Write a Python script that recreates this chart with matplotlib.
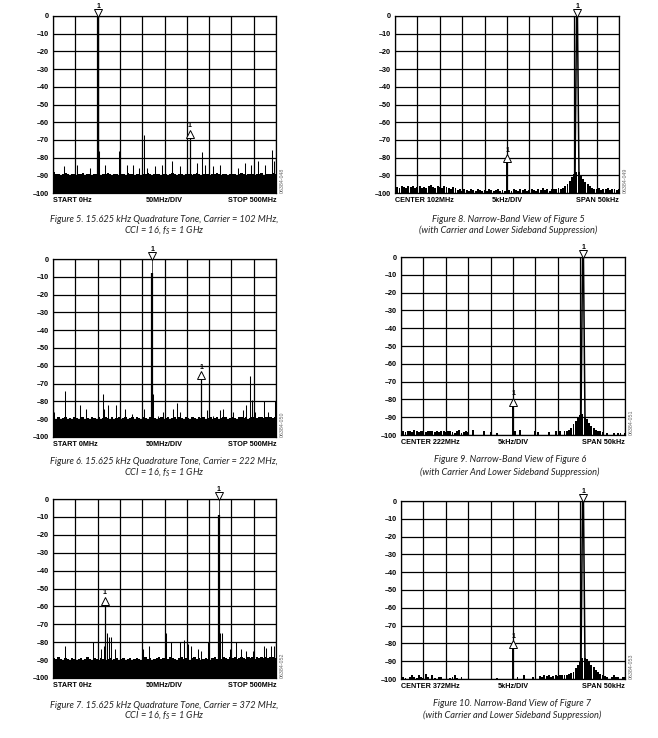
import matplotlib
matplotlib.use('Agg')
import matplotlib.pyplot as plt
from matplotlib import font_manager
from matplotlib.transforms import offset_copy

W, H = 658, 738

# ---------------- wide band views, 0 - 500 MHz ----------------
wide_freq = list(range(0, 500, 5))   # noise floor bins, MHz

fig5_floor = [-88, -89, -89.5, -90, -89, -88.5, -89.5, -90, -89, -89.5,
              -90, -89, -89.5, -88.5, -90, -89.5, -89, -90, -89.5, -89,
              -89.5, -90, -89, -89.5, -88.5, -89.5, -90, -89, -89.5, -90,
              -89, -89.5, -90, -88.5, -89.5, -89, -90, -89.5, -89, -90,
              -89.5, -89, -88.5, -89.5, -90, -89, -89.5, -89, -90, -89.5,
              -89, -90, -89.5, -88.5, -89, -90, -89.5, -89, -90, -89.5,
              -89, -89.5, -90, -89, -88.5, -89.5, -90, -89, -89.5, -89,
              -90, -89.5, -89, -88.5, -89.5, -90, -89, -89.5, -90, -89,
              -89.5, -89, -90, -89.5, -88.5, -89, -90, -89.5, -89, -89.5,
              -90, -89, -89.5, -88.5, -90, -89.5, -89, -89.5, -88.5, -89]
fig5_spur_mhz = [0, 24, 54, 82, 104, 117, 148, 165, 180, 192, 203, 210, 229,
                 244, 266, 285, 322, 333, 341, 359, 374, 398, 415, 430, 443,
                 460, 475, 490, 495]
fig5_spur_db = [-23, -85, -84, -86, -76, -84, -76, -84, -84, -86, -67, -86,
                -85, -84, -82, -85, -83, -77, -84, -85, -84, -78, -86, -83,
                -84, -82, -84, -75.5, -82]
fig5_carrier = (102, 0, 0)        # MHz, thick top, marker level
fig5_marker = (307, -68)

fig6_floor = [-89.5, -90, -89, -90, -89.5, -88.5, -90, -89.5, -90, -89,
              -89.5, -90, -89, -88.5, -90, -89.5, -90, -89, -89.5, -90,
              -89, -90, -89.5, -88.5, -89.5, -90, -89, -90, -89.5, -89,
              -90, -89.5, -89, -90, -89.5, -88.5, -90, -89, -89.5, -90,
              -89, -89.5, -90, -89, -88.5, -89.5, -90, -89.5, -89, -90,
              -89.5, -89, -90, -89.5, -89, -90, -88.5, -89.5, -90, -89,
              -89.5, -90, -89, -89.5, -90, -88.5, -89.5, -89, -90, -89.5,
              -89, -90, -89.5, -89, -90, -89.5, -88.5, -89, -90, -89.5,
              -89, -89.5, -90, -89, -88.5, -89.5, -89, -90, -89.5, -89,
              -88.5, -89.5, -89, -88.5, -89.5, -89, -88.5, -89, -89.5, -88.5]
fig6_spur_mhz = [0, 2, 28, 60, 73, 111, 114, 123, 142, 161, 178, 203, 224,
                 235, 247, 269, 277, 284, 345, 359, 374, 381, 404, 425, 433,
                 442, 446, 452, 473, 482, 497]
fig6_spur_db = [-23, -86, -74, -82, -84, -76, -84, -82, -82, -84, -87, -84,
                -76, -88, -86, -84, -81, -86, -85, -88, -85, -84, -86, -85,
                -82, -66, -79, -86, -80, -86, -80]
fig6_carrier = (222, -8, 0)
fig6_marker = (332, -67)

fig7_floor = [-89, -89.5, -88.5, -89.5, -90, -89, -89.5, -90, -89, -89.5,
              -90, -89.5, -89, -90, -89.5, -88.5, -89.5, -90, -89, -89.5,
              -90, -89, -89.5, -90, -89.5, -89, -90, -89.5, -89, -90,
              -89.5, -89, -90, -89.5, -89, -90, -89.5, -89, -89.5, -90,
              -89, -88.5, -89.5, -89, -90, -89.5, -89, -88.5, -89.5, -89,
              -90, -89.5, -88.5, -89, -89.5, -90, -89, -88.5, -89.5, -89,
              -89.5, -90, -89, -88.5, -89.5, -89, -90, -89.5, -89, -89.5,
              -90, -89, -88.5, -89.5, -89, -89.5, -88.5, -89, -89.5, -88.5,
              -89, -88.5, -89.5, -89, -88.5, -89, -89.5, -88.5, -89, -88.5,
              -89.5, -88.5, -89, -88, -89, -88.5, -89, -88, -88.5, -89]
fig7_spur_mhz = [0, 28, 90, 107, 115, 121, 125, 129, 140, 201, 215, 254,
                 265, 284, 293, 302, 310, 325, 332, 347, 375, 379, 396, 410,
                 422, 433, 448, 472, 478, 489, 496]
fig7_spur_db = [-23, -82, -80, -84, -82, -75, -77, -77, -84, -84, -82, -75,
                -80, -80, -79, -81, -82, -84, -85, -80, -75, -75, -84, -80,
                -84, -85, -85, -82, -83, -82, -82]
fig7_carrier = (372, -9, 0)
fig7_marker = (116, -58.5)

# ---------------- narrow band views, 50 kHz span ----------------
nb_khz = [-25 + 0.5 * i for i in range(101)]   # trace bins, kHz from center

fig8_trace = [-97, -96.5, -97, -96, -96.5, -97, -96, -96.5, -96, -97,
              -96.5, -96, -97, -96.5, -97, -96, -95.5, -96.5, -97, -96,
              -96.5, -97, -96, -96.5, -97, -97.5, -96.5, -97,
              -98.5, -98, -99, -97.5, -98.5, -99, -98, -98.5, -99, -98,
              -98.5, -99, -98.5, -99, -98, -98.5, -99, -98.5, -98, -99,
              -98.5, -99,
              -98.5,
              -98.5, -99, -98, -98.5, -99, -97.5, -98.5, -98, -99, -98.5,
              -97.5, -98.5, -99, -98, -98.5, -97, -98.5, -98, -99, -98,
              -97.5, -98, -97, -97.5,
              -97, -96, -95, -93, -91, -89,
              -88,
              -88, -90, -92, -94, -95, -96, -97,
              -97.5, -98, -97, -98.5, -97.5, -98, -97, -98.5, -98, -97.5,
              -98.5, -98]
fig9_trace = [-98.5, -98, -98.5, -97.5, -98, -98.5, -97, -98, -98.5, -98,
              -97.5, -98.5, -98, -97.5, -98, -98.5, -98, -98.5, -97.5, -98,
              -98.5, -98, -97.5, -98.5, -99, -98, -97, -99, -98.5, -98,
              -98.5,
              -100, -97, -100, -100, -100, -100, -98, -100, -100, -98.5,
              -100, -100, -99, -100, -100, -100, -100, -100, -100,
              -100,
              -98, -100, -97, -100, -100, -100, -100, -100, -100, -98,
              -98.5, -100, -100, -100, -100, -98.3, -100, -100, -98, -100,
              -97.5, -100, -97.5, -98,
              -97, -96, -94, -92, -90, -89,
              -88,
              -90, -91, -93, -95, -96, -97, -97.5,
              -98, -98.5, -100, -99, -100, -100, -99, -100, -99, -99,
              -100, -99]
fig10_trace = [-100, -99, -99.5, -100, -99, -97.5, -99, -99.5, -98, -99,
               -99.5, -97, -99, -100, -98, -99.5, -100, -99, -99, -100,
               -100, -100, -99.5, -99, -98, -99.5, -100, -99, -100,
               -100, -100, -100, -100, -100, -100, -100, -100, -100, -100,
               -100, -100, -100, -100, -99.5, -100, -100, -100, -100, -100,
               -100,
               -100,
               -100, -99, -100, -100, -98, -100, -100, -100, -99, -100,
               -100, -98.5, -99, -98, -98.5, -98, -99, -98.5, -98, -98.5,
               -98, -97.5, -98, -97.5,
               -97, -96.5, -96, -94, -92, -90,
               -88,
               -88, -89, -90, -92, -93.5, -95, -96,
               -97, -98, -98.5, -99, -100, -99, -98, -99, -99, -100,
               -99, -99]

sideband_khz = 15.625
residual_khz = 0.0
fig8_residual_db = -82
fig9_residual_db = -83
fig10_residual_db = -82
# upper sideband trace shape around the tone (kHz offset, dB)
peak_dx = [-0.45, -0.1, 0.1, 0.45]
peak_db = [-92, 0, 0, -92]

wide_labels = [('START 0Hz', '50MHz/DIV', 'STOP 500MHz'),
               ('START 0MHz', '50MHz/DIV', 'STOP 500MHz'),
               ('START 0Hz', '50MHz/DIV', 'STOP 500MHz')]
narrow_labels = [('CENTER 102MHz', '5kHz/DIV', 'SPAN 50kHz'),
                 ('CENTER 222MHz', '5kHz/DIV', 'SPAN 50kHz'),
                 ('CENTER 372MHz', '5kHz/DIV', 'SPAN 50kHz')]
codes = ['06384-048', '06384-049', '06384-050', '06384-051',
         '06384-052', '06384-053']
captions = [
    ('Figure 5. 15.625 kHz Quadrature Tone, Carrier = 102 MHz,',
     'CCI = 16, $f_S$ = 1 GHz'),
    ('Figure 8. Narrow-Band View of Figure 5',
     '(with Carrier and Lower Sideband Suppression)'),
    ('Figure 6. 15.625 kHz Quadrature Tone, Carrier = 222 MHz,',
     'CCI = 16, $f_S$ = 1 GHz'),
    ('Figure 9. Narrow-Band View of Figure 6',
     '(with Carrier And Lower Sideband Suppression)'),
    ('Figure 7. 15.625 kHz Quadrature Tone, Carrier = 372 MHz,',
     'CCI = 16, $f_S$ = 1 GHz'),
    ('Figure 10. Narrow-Band View of Figure 7',
     '(with Carrier and Lower Sideband Suppression)'),
]

names = set(f.name for f in font_manager.fontManager.ttflist)
cap_font = 'Liberation Sans Narrow' if 'Liberation Sans Narrow' in names else 'Lato'
lab_font = 'Liberation Sans'

plt.rcParams['font.family'] = lab_font
plt.rcParams['mathtext.fontset'] = 'custom'
plt.rcParams['mathtext.it'] = cap_font + ':italic'
plt.rcParams['mathtext.rm'] = cap_font + ':italic'

fig = plt.figure(figsize=(W / 100, H / 100), dpi=100)


def box(l, t, r, b):
    return [l / W, 1 - b / H, (r - l) / W, (b - t) / H]


def frame(ax, xmin, xmax, step, labels, code):
    ax.set_xlim(xmin, xmax)
    ax.set_ylim(-100, 0)
    ax.set_xticks([xmin + step * i for i in range(11)])
    ax.set_yticks(range(-100, 1, 10))
    ax.set_xticklabels([])
    ax.set_yticklabels(['0' if v == 0 else '\u2013%d' % -v for v in range(-100, 1, 10)],
                       fontweight='bold')
    ax.tick_params(length=0, pad=3, labelsize=5.2)
    ax.grid(True, color='black', lw=0.9, zorder=0)
    ax.set_axisbelow(True)
    for s in ax.spines.values():
        s.set_linewidth(0.9)
    ax.text(0, -0.04, labels[0], transform=ax.transAxes, ha='left', va='center',
            fontsize=5.2, fontweight='bold')
    ax.text(0.5, -0.04, labels[1], transform=ax.transAxes, ha='center', va='center',
            fontsize=5.2, fontweight='bold')
    ax.text(1, -0.04, labels[2], transform=ax.transAxes, ha='right', va='center',
            fontsize=5.2, fontweight='bold')
    ax.text(1.015, 0.0, code, transform=ax.transAxes, rotation=90, ha='left',
            va='bottom', fontsize=3.8, color='#666666')


def marker(ax, x, y, up):
    if up:
        tr = offset_copy(ax.transData, fig=fig, y=2.0, units='points')
        ax.plot([x], [y], marker='^', ms=5.5, mfc='white', mec='black', mew=0.7,
                transform=tr, clip_on=False, zorder=5)
        ax.annotate('1', (x, y), xytext=(0, 7.8), textcoords='offset points',
                    ha='center', va='center', fontsize=5, fontweight='bold')
    else:
        tr = offset_copy(ax.transData, fig=fig, y=1.9, units='points')
        ax.plot([x], [y], marker='v', ms=5.5, mfc='white', mec='black', mew=0.7,
                transform=tr, clip_on=False, zorder=5)
        ax.annotate('1', (x, y), xytext=(0, 6.5), textcoords='offset points',
                    ha='center', va='center', fontsize=5, fontweight='bold',
                    annotation_clip=False)


def wide(ax, floor, spur_f, spur_db, carrier, mk, labels, code):
    frame(ax, 0, 500, 50, labels, code)
    # slightly wider than the bin so neighbouring bars do not leave seams
    ax.bar(wide_freq, [v + 100 for v in floor], bottom=-100, width=5.6,
           align='edge', color='black', lw=0, zorder=2)
    ax.vlines(spur_f, -100, spur_db, color='black', lw=0.75, zorder=3)
    ax.vlines([carrier[0]], -100, [carrier[1]], color='black', lw=1.6, zorder=3)
    ax.vlines([carrier[0]], [carrier[1]], [carrier[2]], color='black', lw=0.5, zorder=3)
    ax.vlines([mk[0]], -100, [mk[1]], color='black', lw=0.9, zorder=3)
    marker(ax, carrier[0], carrier[2], False)
    marker(ax, mk[0], mk[1], True)


def narrow(ax, trace, resid_db, labels, code):
    frame(ax, -25, 25, 5, labels, code)
    ax.bar(nb_khz, [v + 100 for v in trace], bottom=-100, width=0.42,
           color='black', lw=0, zorder=2)
    ax.vlines([residual_khz], -100, [resid_db], color='black', lw=1.4, zorder=3)
    ax.plot([sideband_khz + d for d in peak_dx], peak_db, color='black',
            lw=1.1, zorder=3)
    marker(ax, sideband_khz, 0, False)
    marker(ax, residual_khz, resid_db, True)


ax5 = fig.add_axes(box(53, 16, 276, 193))
wide(ax5, fig5_floor, fig5_spur_mhz, fig5_spur_db, fig5_carrier, fig5_marker,
     wide_labels[0], codes[0])
ax8 = fig.add_axes(box(395, 16, 619, 193))
narrow(ax8, fig8_trace, fig8_residual_db, narrow_labels[0], codes[1])
ax6 = fig.add_axes(box(53, 259, 276, 437))
wide(ax6, fig6_floor, fig6_spur_mhz, fig6_spur_db, fig6_carrier, fig6_marker,
     wide_labels[1], codes[2])
ax9 = fig.add_axes(box(401, 257, 625, 435))
narrow(ax9, fig9_trace, fig9_residual_db, narrow_labels[1], codes[3])
ax7 = fig.add_axes(box(53, 499, 276, 678))
wide(ax7, fig7_floor, fig7_spur_mhz, fig7_spur_db, fig7_carrier, fig7_marker,
     wide_labels[2], codes[4])
ax10 = fig.add_axes(box(401, 501, 625, 679))
narrow(ax10, fig10_trace, fig10_residual_db, narrow_labels[2], codes[5])

# captions (pixel centre x, line y's)
cap_pos = [(164, 219, 230), (508, 220, 230), (164, 462, 472),
           (510, 460, 472), (164, 705, 715), (512, 703, 715)]
for (cx, y1, y2), (l1, l2) in zip(cap_pos, captions):
    fig.text(cx / W, 1 - y1 / H, l1, ha='center', va='center', fontsize=6.7,
             family=cap_font, style='italic', color='#222222')
    fig.text(cx / W, 1 - y2 / H, l2, ha='center', va='center', fontsize=6.7,
             family=cap_font, style='italic', color='#222222')

fig.savefig('out.png', dpi=100)
